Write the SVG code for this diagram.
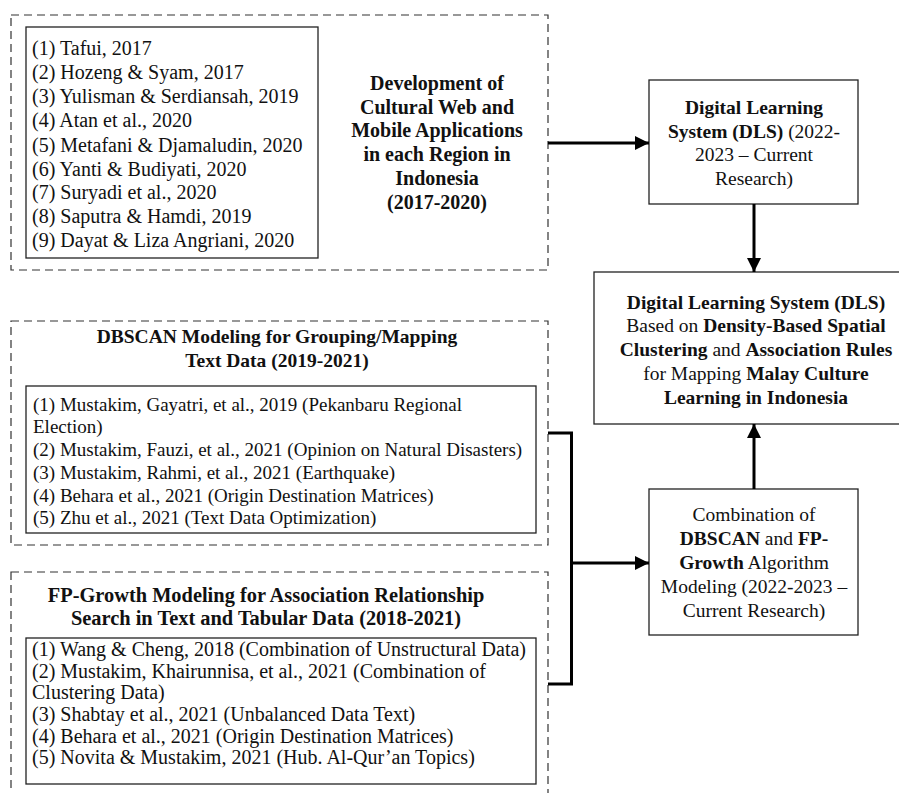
<svg xmlns="http://www.w3.org/2000/svg" width="899" height="793" viewBox="0 0 899 793">
<style>
text{font-family:"Liberation Serif","Times New Roman",serif;font-size:19.5px;fill:#111}
.b{font-weight:bold}
.c{text-anchor:middle}
.l20{font-size:20px}
.l19{font-size:19px}
.t20{font-size:20.4px}
.dash{fill:none;stroke:#333;stroke-width:1.2;stroke-dasharray:8 5}
.box{fill:#fff;stroke:#222;stroke-width:1.3}
.con{fill:none;stroke:#000;stroke-width:3}
</style>
<defs>
<marker id="ah" markerUnits="userSpaceOnUse" markerWidth="15" markerHeight="14" refX="14" refY="7" orient="auto">
<path d="M0,0 L14,7 L0,14 z" fill="#000"/>
</marker>
</defs>
<rect width="899" height="793" fill="#fff"/>

<g id="web-group">
<rect class="dash" x="11" y="15" width="537" height="255"/>
<g id="web-refs">
<rect class="box" x="26" y="27" width="292" height="231"/>
<text class="l20" x="32" y="55">(1) Tafui, 2017</text>
<text class="l20" x="32" y="79">(2) Hozeng &amp; Syam, 2017</text>
<text class="l20" x="32" y="103">(3) Yulisman &amp; Serdiansah, 2019</text>
<text class="l20" x="32" y="127">(4) Atan et al., 2020</text>
<text class="l20" x="32" y="151.5">(5) Metafani &amp; Djamaludin, 2020</text>
<text class="l20" x="32" y="175.5">(6) Yanti &amp; Budiyati, 2020</text>
<text class="l20" x="32" y="199">(7) Suryadi et al., 2020</text>
<text class="l20" x="32" y="223">(8) Saputra &amp; Hamdi, 2019</text>
<text class="l20" x="32" y="247">(9) Dayat &amp; Liza Angriani, 2020</text>
</g>
<g id="web-title">
<text class="c b l20" x="437" y="89.5">Development of</text>
<text class="c b l20" x="437" y="113.5">Cultural Web and</text>
<text class="c b l20" x="437" y="137">Mobile Applications</text>
<text class="c b l20" x="437" y="161">in each Region in</text>
<text class="c b l20" x="437" y="185">Indonesia</text>
<text class="c b l20" x="437" y="209">(2017-2020)</text>
</g>
</g>

<g id="dls">
<rect class="box" x="649" y="80" width="209" height="124"/>
<text class="c b" x="754" y="113.5">Digital Learning</text>
<text class="c" x="754" y="137.5"><tspan class="b">System (DLS)</tspan> (2022-</text>
<text class="c" x="754" y="160.5">2023 – Current</text>
<text class="c" x="754" y="184.5">Research)</text>
</g>

<g id="dls-main">
<rect class="box" x="594" y="272" width="330" height="152"/>
<text class="c b" x="756" y="309">Digital Learning System (DLS)</text>
<text class="c" x="756" y="332">Based on <tspan class="b">Density-Based Spatial</tspan></text>
<text class="c" x="756" y="356"><tspan class="b">Clustering</tspan> and <tspan class="b">Association Rules</tspan></text>
<text class="c" x="756" y="380">for Mapping <tspan class="b">Malay Culture</tspan></text>
<text class="c b" x="756" y="404">Learning in Indonesia</text>
</g>

<g id="dbscan-group">
<rect class="dash" x="11" y="321" width="537" height="224"/>
<text class="c b" x="277" y="343">DBSCAN Modeling for Grouping/Mapping</text>
<text class="c b" x="277" y="367">Text Data (2019-2021)</text>
<g id="dbscan-refs">
<rect class="box" x="26" y="386" width="510" height="147"/>
<text class="l19" x="33" y="410.5">(1) Mustakim, Gayatri, et al., 2019 (Pekanbaru Regional</text>
<text class="l19" x="33" y="433">Election)</text>
<text class="l19" x="33" y="456">(2) Mustakim, Fauzi, et al., 2021 (Opinion on Natural Disasters)</text>
<text class="l19" x="33" y="479">(3) Mustakim, Rahmi, et al., 2021 (Earthquake)</text>
<text class="l19" x="33" y="501.5">(4) Behara et al., 2021 (Origin Destination Matrices)</text>
<text class="l19" x="33" y="524">(5) Zhu et al., 2021 (Text Data Optimization)</text>
</g>
</g>

<g id="fp-group">
<rect class="dash" x="11" y="572" width="537" height="260"/>
<text class="c b t20" x="266" y="602">FP-Growth Modeling for Association Relationship</text>
<text class="c b t20" x="266" y="625">Search in Text and Tabular Data (2018-2021)</text>
<g id="fp-refs">
<rect class="box" x="26" y="638" width="510" height="146"/>
<text class="l20" x="32" y="655.5">(1) Wang &amp; Cheng, 2018 (Combination of Unstructural Data)</text>
<text class="l20" x="32" y="677.5">(2) Mustakim, Khairunnisa, et al., 2021 (Combination of</text>
<text class="l20" x="32" y="699">Clustering Data)</text>
<text class="l20" x="32" y="721">(3) Shabtay et al., 2021 (Unbalanced Data Text)</text>
<text class="l20" x="32" y="743">(4) Behara et al., 2021 (Origin Destination Matrices)</text>
<text class="l20" x="32" y="764">(5) Novita &amp; Mustakim, 2021 (Hub. Al-Qur’an Topics)</text>
</g>
</g>

<g id="combination">
<rect class="box" x="649" y="489" width="209" height="146"/>
<text class="c" x="754" y="520.5">Combination of</text>
<text class="c" x="754" y="545"><tspan class="b">DBSCAN</tspan> and <tspan class="b">FP-</tspan></text>
<text class="c" x="754" y="569"><tspan class="b">Growth</tspan> Algorithm</text>
<text class="c" x="754" y="593">Modeling (2022-2023 –</text>
<text class="c" x="754" y="617">Current Research)</text>
</g>

<g id="connectors">
<line class="con" x1="548" y1="143" x2="649" y2="143" marker-end="url(#ah)"/>
<line class="con" x1="754" y1="204" x2="754" y2="272" marker-end="url(#ah)"/>
<line class="con" x1="754" y1="489" x2="754" y2="424" marker-end="url(#ah)"/>
<path class="con" d="M548,433 H571.5 V684 H548"/>
<line class="con" x1="571.5" y1="563" x2="649" y2="563" marker-end="url(#ah)"/>
</g>
</svg>
